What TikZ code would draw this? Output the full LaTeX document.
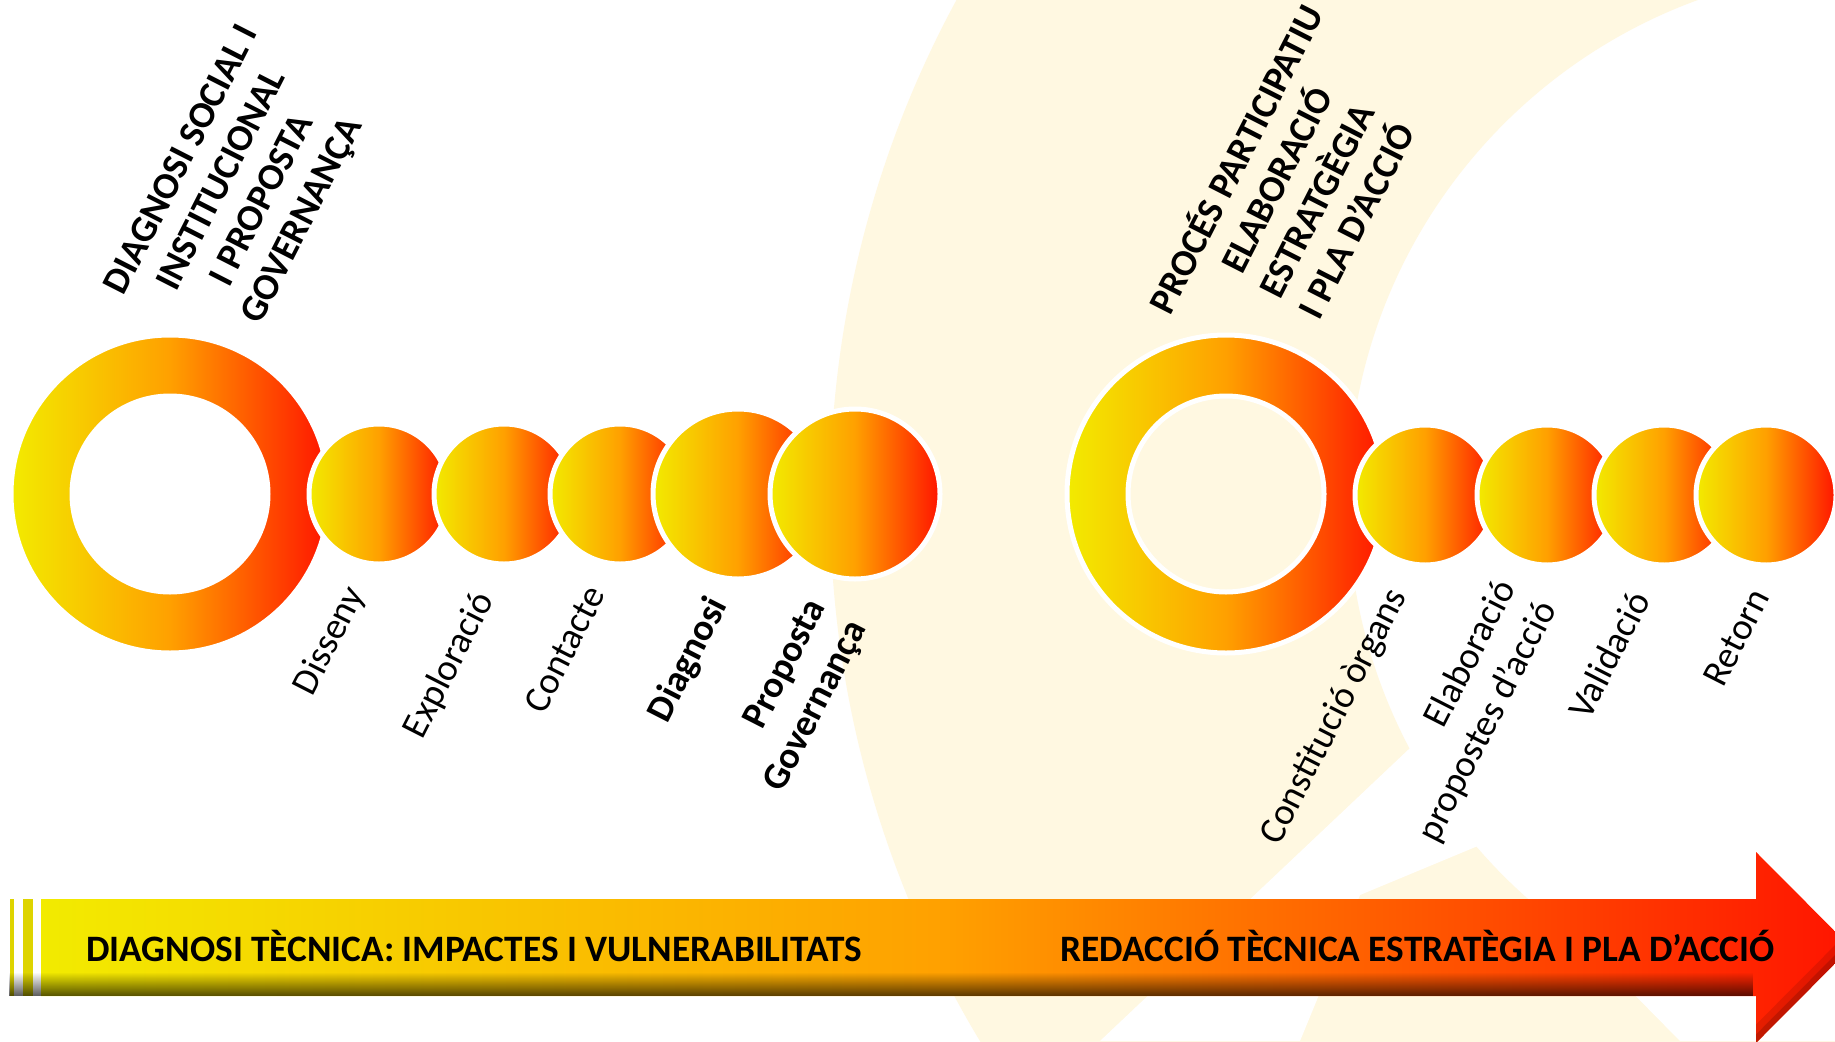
\documentclass[tikz,border=0pt]{standalone}
\usepackage{fontspec}
\setmainfont{Carlito}
\usetikzlibrary{fadings}
\definecolor{cy}{RGB}{242,235,0}
\definecolor{co}{RGB}{255,160,0}
\definecolor{cr}{RGB}{255,20,0}
\definecolor{cream}{RGB}{255,248,225}
\definecolor{stripe}{RGB}{222,212,0}
\tikzfading[name=bandfade, top color=transparent!100, bottom color=transparent!35]
\begin{document}
\begin{tikzpicture}[x=1pt,y=-1pt,
  grad/.style={left color=cy, right color=cr, middle color=co},
  disc/.style={circle, grad, draw=white, line width=5pt, inner sep=0pt, minimum size=#1},
  ringsh/.style={grad, draw=white, line width=5pt, even odd rule},
  lab/.style={font=\fontsize{37.5}{46}\selectfont, inner sep=0pt, rotate=63, align=right, anchor=north east},
  head/.style={font=\bfseries\fontsize{37.5}{45}\selectfont, inner sep=0pt, rotate=63, align=center, anchor=center},
  arrtxt/.style={font=\bfseries\fontsize{37.3}{40}\selectfont, inner sep=0pt}]
\useasboundingbox (0,0) rectangle (1835,1041);
\clip (0,0) rectangle (1835,1041);
\fill[white] (0,0) rectangle (1835,1041);
% faint background logo
\fill[cream, even odd rule] (1880,500) circle[radius=1050pt] (1880,500) circle[radius=532pt];
\fill[white] (1445,715) -- (1100,1041) -- (1300,1041) -- (1360,895) -- (1485,843) -- (1480,760) -- cycle;
\fill[white] (1485,843) -- (1680,1041) -- (1900,1041) -- (1900,843) -- cycle;
% left group
\path[ringsh] (170,494) circle[radius=159pt] (170,494) circle[radius=98pt];
\node[disc=140pt] (c1) at (379,494) {};
\node[disc=140pt] (c2) at (504,494) {};
\node[disc=140pt] (c3) at (620,494) {};
\node[disc=170pt] (c4) at (738,494) {};
\node[disc=170pt] (c5) at (855,494) {};
% right group
\path[ringsh] (1226,494) circle[radius=159pt] (1226,494) circle[radius=98pt];
\node[disc=140pt] (d1) at (1425,495) {};
\node[disc=140pt] (d2) at (1547,495) {};
\node[disc=140pt] (d3) at (1664,495) {};
\node[disc=140pt] (d4) at (1766,495) {};
% headings
\node[head] (h1) at (243,191) {DIAGNOSI SOCIAL I\\INSTITUCIONAL\\I PROPOSTA\\GOVERNANÇA};
\node[head] (h2) at (1294,189) {PROCÉS PARTICIPATIU\\ELABORACIÓ\\ESTRATGÈGIA\\I PLA D’ACCIÓ};
% labels
\node[lab] (l1) at (340,581) {\rule{0pt}{28pt}Disseny};
\node[lab] (l2) at (469,587) {\rule{0pt}{28pt}Exploració};
\node[lab] (l3) at (581,581) {\rule{0pt}{28pt}Contacte};
\node[lab, font=\bfseries\fontsize{37.5}{46}\selectfont] (l4) at (703,592) {\rule{0pt}{28pt}Diagnosi};
\node[lab, font=\bfseries\fontsize{37.5}{46}\selectfont] (l5) at (801,594) {\rule{0pt}{28pt}Proposta\\Governança};
\node[lab] (r1) at (1382,583) {\rule{0pt}{28pt}Constitució òrgans};
\node[lab] (r2) at (1491,575) {\rule{0pt}{28pt}Elaboració\\propostes d’acció};
\node[lab] (r3) at (1626,587) {\rule{0pt}{28pt}Validació};
\node[lab] (r4) at (1745,584) {\rule{0pt}{28pt}Retorn};
% bottom arrow
\fill[stripe] (10,899) rectangle (14,996);
\fill[stripe] (23,899) rectangle (33,996);
\path[grad] (41,899) -- (1756,899) -- (1756,852) -- (1851,947.5) -- (1756,1043) -- (1756,996) -- (41,996) -- cycle;
\fill[black, path fading=bandfade] (10,972) rectangle (1756,996);
\begin{scope}
\clip (1756,852) -- (1851,947.5) -- (1756,1043) -- cycle;
\draw[black, opacity=0.10, line width=26pt] (1756,1043) -- (1851,947.5);
\draw[black, opacity=0.15, line width=12pt] (1756,1043) -- (1851,947.5);
\end{scope}
\node[arrtxt, anchor=base west] (t1) at (86,961) {DIAGNOSI TÈCNICA: IMPACTES I VULNERABILITATS};
\node[arrtxt, anchor=base east] (t2) at (1775,961) {REDACCIÓ TÈCNICA ESTRATÈGIA I PLA D’ACCIÓ};
\end{tikzpicture}
\end{document}
